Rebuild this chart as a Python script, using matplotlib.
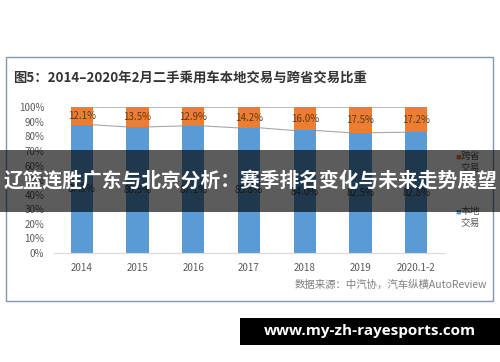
import matplotlib.pyplot as plt
from matplotlib.patches import Rectangle

plt.rcParams['font.family'] = ['Noto Sans CJK SC', 'DejaVu Sans']

years = ["2014", "2015", "2016", "2017", "2018", "2019", "2020.1-2"]
cross = [12.1, 13.5, 12.9, 14.2, 16.0, 17.5, 17.2]   # 跨省交易 %
local = [87.9, 86.5, 87.1, 85.8, 84.0, 82.5, 82.8]   # 本地交易 %
yticks = [0, 10, 20, 30, 40, 50, 60, 70, 80, 90, 100]

BLUE, ORANGE = "#5B9BD5", "#ED7D31"
W = 0.40

fig = plt.figure(figsize=(5.0, 3.62), dpi=100)
ax = fig.add_axes([0.108, 0.301, 0.78, 0.403])

x = list(range(len(years)))
ax.bar(x, local, W, color=BLUE, zorder=2)
ax.bar(x, cross, W, bottom=local, color=ORANGE, zorder=2)

# series lines between bars
for i in range(len(x) - 1):
    ax.plot([x[i] + W / 2, x[i + 1] - W / 2], [local[i], local[i + 1]],
            color="#a6a6a6", lw=0.8, zorder=1)
    ax.plot([x[i] + W / 2, x[i + 1] - W / 2], [100, 100],
            color="#bfbfbf", lw=0.8, zorder=1)

for i in x:
    ax.text(i, local[i] + cross[i] / 2, f"{cross[i]:.1f}%", ha="center", va="center",
            fontsize=7, color="#5a3a1a", zorder=3)
    ax.text(i, local[i] / 2, f"{local[i]:.1f}%", ha="center", va="center",
            fontsize=7, color="#404040", zorder=3)

ax.set_xlim(-0.5, 6.5)
ax.set_ylim(0, 100)
ax.set_yticks(yticks)
ax.set_yticklabels([f"{v}%" for v in yticks])
ax.set_xticks(x)
ax.set_xticklabels(years)
ax.tick_params(length=0, labelsize=7, colors="#595959")
ax.tick_params(axis="y", pad=7)
ax.tick_params(axis="x", pad=7)
for s in ["top", "right", "left"]:
    ax.spines[s].set_visible(False)
ax.spines["bottom"].set_color("#d9d9d9")

# outer frame
fig.add_artist(Rectangle((6 / 500, 1 - 301 / 362), 487 / 500, 244 / 362,
                         transform=fig.transFigure, fill=False,
                         ec="#8497b0", lw=1.0))

fig.text(13 / 500, 1 - 78 / 362, "图5：2014–2020年2月二手乘用车本地交易与跨省交易比重",
         fontsize=9.6, fontweight="bold", color="#333333", va="center")

# legend
fig.text(455 / 500, 1 - 157 / 362, "■", fontsize=4, color=ORANGE, va="center")
fig.text(461 / 500, 1 - 162 / 362, "跨省\n交易", fontsize=7, color="#595959",
         va="center", linespacing=1.15)
fig.text(455 / 500, 1 - 212 / 362, "■", fontsize=4, color=BLUE, va="center")
fig.text(461 / 500, 1 - 217 / 362, "本地\n交易", fontsize=7, color="#595959",
         va="center", linespacing=1.15)

fig.text(487 / 500, 1 - 285 / 362, "数据来源：中汽协，汽车纵横AutoReview",
         fontsize=7.5, color="#7f7f7f", ha="right", va="center")

# overlay band with headline
fig.add_artist(Rectangle((0, 1 - 212 / 362), 1, 62 / 362, transform=fig.transFigure,
                         color="black", alpha=0.64, lw=0, zorder=5))
fig.text(0.5, 1 - 181 / 362, "辽篮连胜广东与北京分析：赛季排名变化与未来走势展望",
         fontsize=14.2, fontweight="bold", color="white", ha="center", va="center",
         zorder=6)

# watermark
fig.add_artist(Rectangle((240 / 500, 1 - 345 / 362), 260 / 500, 27 / 362,
                         transform=fig.transFigure, color="black", lw=0, zorder=5))
fig.text(370 / 500, 1 - 331 / 362, "www.my-zh-rayesports.com", fontsize=11,
         fontweight="bold", color="white", ha="center", va="center",
         family="Open Sans", zorder=6)

fig.savefig("out.png", dpi=100)
